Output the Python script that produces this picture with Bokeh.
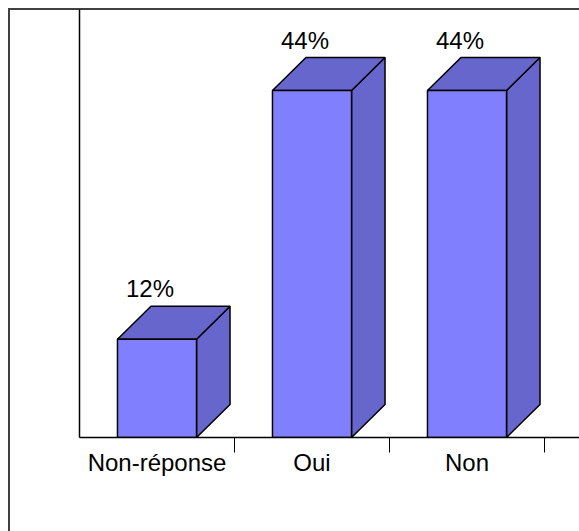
from bokeh.plotting import figure
from bokeh.models import Range1d, FixedTicker, ColumnDataSource
from bokeh.core.properties import value
from bokeh.embed import file_html
from bokeh.resources import INLINE

categories = ["Non-réponse", "Oui", "Non"]
values = [12.4, 43.8, 43.8]
labels = ["12%", "44%", "44%"]

FRONT = "#8080FF"
SIDE = "#6666CC"
FONT = "Liberation Sans"

W, H = 579, 531
LEFT, BOTTOM, TOP = 79, 94, 9
frame_w = W - LEFT
frame_h = H - BOTTOM - TOP
px_per_cat = 155.0
px_per_pct = 347.0 / values[1]

x_end = -0.5 + frame_w / px_per_cat
y_end = frame_h / px_per_pct

p = figure(width=W, height=H, output_backend="svg", toolbar_location=None,
           x_range=Range1d(-0.5, x_end), y_range=Range1d(0, y_end),
           min_border_left=LEFT, min_border_bottom=BOTTOM, min_border_top=TOP,
           min_border_right=0)
p.outline_line_color = None
p.grid.visible = False
p.background_fill_color = None
p.border_fill_color = None
# outer chart-area border: left and top edges (right/bottom run off the page)
p.styles = {
    "background-color": "white",
    "box-shadow": "inset 8px 8px 0 0 white, inset 10px 10px 0 0 #404040",
}

xs = list(range(len(categories)))
half = 0.255
dx = 33.5 / px_per_cat
dy = 33.0 / px_per_pct

front = ColumnDataSource(dict(left=[x - half for x in xs], right=[x + half for x in xs],
                              top=values, bottom=[0] * len(xs)))
side_xs = [[x + half, x + half + dx, x + half + dx, x + half] for x in xs]
side_ys = [[0, dy, v + dy, v] for v in values]
top_xs = [[x - half, x - half + dx, x + half + dx, x + half] for x in xs]
top_ys = [[v, v + dy, v + dy, v] for v in values]

p.patches(side_xs, side_ys, fill_color=SIDE, line_color="black", line_width=1.5)
p.patches(top_xs, top_ys, fill_color=SIDE, line_color="black", line_width=1.5)
p.quad(source=front, left="left", right="right", top="top", bottom="bottom",
       fill_color=FRONT, line_color="black", line_width=1.5)

p.text(x=xs, y=[v + dy for v in values], text=labels, text_font=value(FONT),
       text_font_size="24px", text_align="center", text_baseline="bottom",
       text_color="black", x_offset=-7, y_offset=-4)

xa = p.xaxis[0]
xa.ticker = FixedTicker(ticks=xs, minor_ticks=[x + 0.5 for x in xs])
xa.major_label_overrides = {i: c for i, c in enumerate(categories)}
xa.major_tick_line_color = None
xa.major_tick_out = 0
xa.major_tick_in = 0
xa.minor_tick_line_color = "black"
xa.minor_tick_out = 15
xa.minor_tick_in = 0
xa.axis_line_color = "black"
xa.axis_line_width = 1.5
xa.major_label_text_font = FONT
xa.major_label_text_font_size = "24px"
xa.major_label_text_color = "black"
xa.major_label_standoff = -4

ya = p.yaxis[0]
ya.ticker = FixedTicker(ticks=[])
ya.major_tick_line_color = None
ya.minor_tick_line_color = None
ya.axis_line_color = "black"
ya.axis_line_width = 1.5

open("out.html", "w").write(file_html(p, INLINE))
